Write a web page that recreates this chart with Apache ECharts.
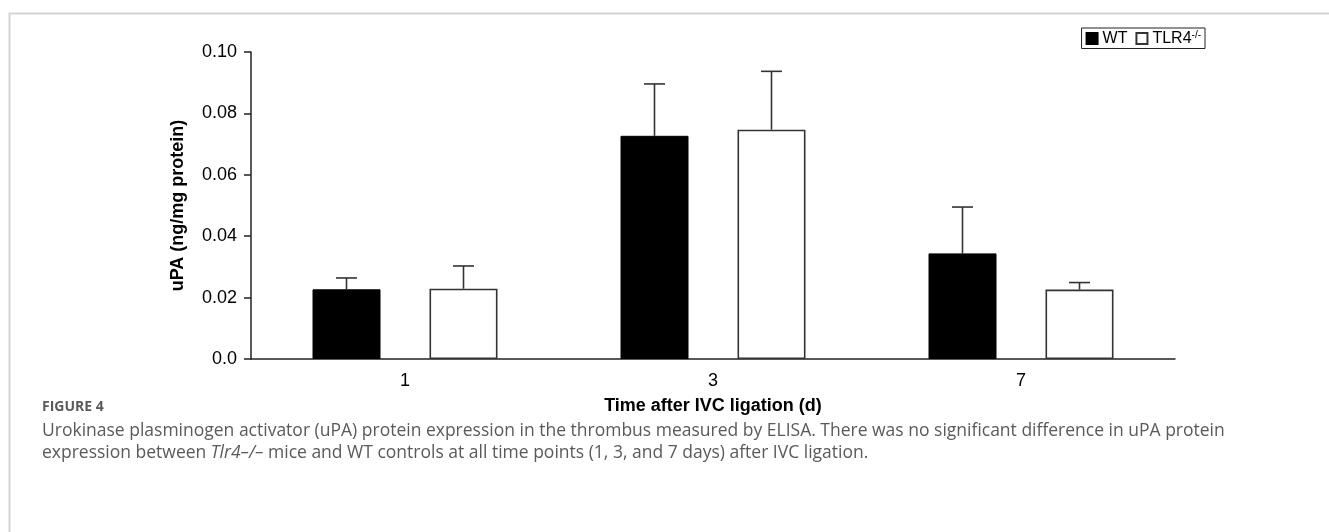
<!DOCTYPE html>
<html>
<head>
<meta charset="utf-8">
<script src="https://cdn.jsdelivr.net/npm/echarts@6/dist/echarts.min.js"></script>
<style>
html,body{margin:0;padding:0;background:#fff;}
#chart{width:1329px;height:532px;}
</style>
</head>
<body>
<div id="chart"></div>
<script>
// ---- data ----
const categories = ['1', '3', '7'];
const wtMean = [0.0227, 0.0727, 0.0344];
const wtErr = [0.0037, 0.0169, 0.0151];
const tlrMean = [0.0229, 0.0747, 0.0226];
const tlrErr = [0.0074, 0.0190, 0.0023];
const yTickLabels = ['0.0', '0.02', '0.04', '0.06', '0.08', '0.10'];

const BAR_W = 68, BAR_GAP = 49;
const chart = echarts.init(document.getElementById('chart'));

function errSeries(name, mean, err, side) {
  return {
    type: 'custom',
    name: name + '_err',
    z: 5,
    silent: true,
    data: mean.map((m, i) => [i, m, m + err[i]]),
    renderItem: function (params, api) {
      const base = api.coord([api.value(0), api.value(1)]);
      const top = api.coord([api.value(0), api.value(2)]);
      const x = base[0] + side * (BAR_W + BAR_GAP) / 2;
      const capW = 21;
      return {
        type: 'group',
        children: [
          {type: 'line', shape: {x1: x, y1: base[1], x2: x, y2: top[1]}, style: {stroke: '#333', lineWidth: 1.6}},
          {type: 'line', shape: {x1: x - capW / 2, y1: top[1], x2: x + capW / 2, y2: top[1]}, style: {stroke: '#333', lineWidth: 1.6}}
        ]
      };
    },
    encode: {x: 0, y: [1, 2]}
  };
}

const option = {
  animation: false,
  backgroundColor: '#fff',
  textStyle: {fontFamily: 'Liberation Sans'},
  grid: {left: 251, right: 154, top: 52, bottom: 173, containLabel: false},
  legend: {
    data: ['WT', 'TLR4'],
    right: 124, top: 28,
    itemWidth: 11, itemHeight: 11, itemGap: 8,
    borderColor: '#222', borderWidth: 1, padding: [2, 4, 2, 4],
    icon: 'rect',
    formatter: function (n) { return n === 'TLR4' ? '{a|TLR4}{s|-/-}' : '{a|WT}'; },
    textStyle: {
      color: '#000', fontSize: 16,
      rich: {
        a: {fontSize: 16, color: '#000', fontFamily: 'Liberation Sans', lineHeight: 17},
        s: {fontSize: 10, color: '#000', fontFamily: 'Liberation Sans', verticalAlign: 'top', lineHeight: 17}
      }
    }
  },
  xAxis: {
    type: 'category',
    data: categories,
    name: 'Time after IVC ligation (d)',
    nameLocation: 'middle',
    nameGap: 38,
    nameTextStyle: {fontSize: 18, fontWeight: 'bold', color: '#000', fontFamily: 'Liberation Sans'},
    axisLine: {lineStyle: {color: '#222', width: 1.5}},
    axisTick: {alignWithLabel: true, length: 7, lineStyle: {color: '#222', width: 1.5}},
    axisLabel: {fontSize: 18, color: '#000', margin: 13, fontFamily: 'Liberation Sans'}
  },
  yAxis: {
    type: 'value',
    min: 0, max: 0.1, interval: 0.02,
    name: 'uPA (ng/mg protein)',
    nameLocation: 'middle',
    nameGap: 64,
    nameTextStyle: {fontSize: 18, fontWeight: 'bold', color: '#000', fontFamily: 'Liberation Sans'},
    axisLine: {show: true, lineStyle: {color: '#222', width: 1.5}},
    axisTick: {show: true, length: 7, lineStyle: {color: '#222', width: 1.5}},
    splitLine: {show: false},
    axisLabel: {
      fontSize: 18, color: '#000', margin: 14, fontFamily: 'Liberation Sans',
      formatter: function (v) { return yTickLabels[Math.round(v / 0.02)]; }
    }
  },
  series: [
    {
      name: 'WT', type: 'bar', data: wtMean, barWidth: BAR_W, barGap: (BAR_GAP / BAR_W * 100) + '%',
      itemStyle: {color: '#000', borderColor: '#000', borderWidth: 1}
    },
    {
      name: 'TLR4', type: 'bar', data: tlrMean, barWidth: BAR_W,
      itemStyle: {color: '#fff', borderColor: '#333', borderWidth: 1.6}
    },
    errSeries('WT', wtMean, wtErr, -1),
    errSeries('TLR4', tlrMean, tlrErr, 1)
  ],
  graphic: [
    {type: 'rect', left: 7, top: 11, shape: {width: 1400, height: 600}, style: {fill: 'none', stroke: '#d4d4d4', lineWidth: 2}, z: -1, silent: true},
    {type: 'text', left: 42, top: 400, style: {text: 'FIGURE 4', fontFamily: 'Open Sans', fontSize: 14, fontWeight: 'bold', fill: '#5a5a5a'}},
    {type: 'text', left: 42, top: 422, style: {text: 'Urokinase plasminogen activator (uPA) protein expression in the thrombus measured by ELISA. There was no significant difference in uPA protein', fontFamily: 'Open Sans', fontSize: 17.5, fill: '#5a5a5a'}},
    {type: 'text', left: 42, top: 444, style: {
      text: '{n|expression between }{i|Tlr4–/–}{n| mice and WT controls at all time points (1, 3, and 7 days) after IVC ligation.}',
      rich: {
        n: {fontFamily: 'Open Sans', fontSize: 17.5, fill: '#5a5a5a'},
        i: {fontFamily: 'Open Sans', fontSize: 17.5, fontStyle: 'italic', fill: '#5a5a5a'}
      }
    }}
  ]
};
chart.setOption(option);
</script>
</body>
</html>
